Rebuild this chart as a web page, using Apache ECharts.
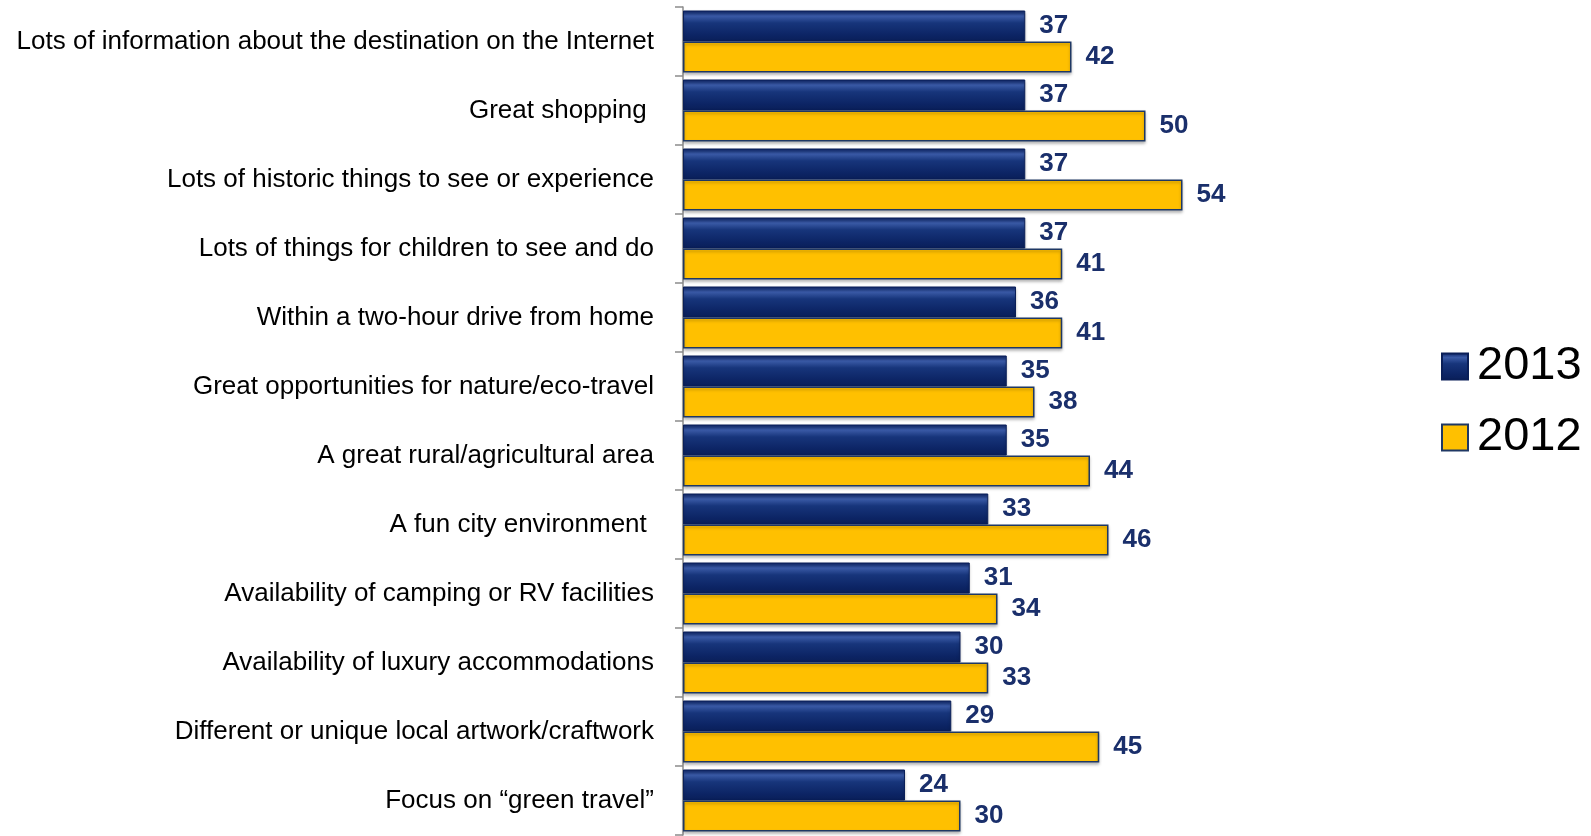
<!DOCTYPE html>
<html>
<head>
<meta charset="utf-8">
<script src="https://cdn.jsdelivr.net/npm/echarts@6/dist/echarts.min.js"></script>
<style>
  html, body { margin: 0; padding: 0; background: #fff; }
  #main { width: 1591px; height: 836px; }
</style>
</head>
<body>
<div id="main"></div>
<script>
var categories = [
  'Lots of information about the destination on the Internet',
  'Great shopping ',
  'Lots of historic things to see or experience',
  'Lots of things for children to see and do',
  'Within a two-hour drive from home',
  'Great opportunities for nature/eco-travel',
  'A great rural/agricultural area',
  'A fun city environment ',
  'Availability of camping or RV facilities',
  'Availability of luxury accommodations',
  'Different or unique local artwork/craftwork',
  'Focus on \u201cgreen travel\u201d'
]
var values2013 = [37, 37, 37, 37, 36, 35, 35, 33, 31, 30, 29, 24]
var values2012 = [42, 50, 54, 41, 41, 38, 44, 46, 34, 33, 45, 30]

var myChart = echarts.init(document.getElementById('main'))
var option

var navyGradient = new echarts.graphic.LinearGradient(0, 0, 0, 1, [
  { offset: 0, color: '#0b2263' },
  { offset: 0.18, color: '#3a5aa6' },
  { offset: 0.4, color: '#17357b' },
  { offset: 0.8, color: '#0c2464' },
  { offset: 1, color: '#0a1f58' }
])

var labelStyle = {
  show: true,
  position: 'right',
  distance: 14,
  color: '#1a2f6b',
  fontFamily: 'Liberation Sans, Arial, sans-serif',
  fontWeight: 'bold',
  fontSize: 26
}

option = {
  animation: false,
  backgroundColor: '#fff',
  grid: {
    left: 683,
    right: 353,
    top: 7,
    bottom: 1,
    containLabel: false,
    outerBoundsMode: 'none'
  },
  legend: {
    orient: 'vertical',
    left: 1436,
    top: 338,
    itemWidth: 26,
    itemHeight: 26,
    itemGap: 24,
    icon: 'rect',
    data: ['2013', '2012'],
    textStyle: {
      fontFamily: 'Liberation Sans, Arial, sans-serif',
      fontSize: 47,
      lineHeight: 44,
      color: '#000',
      padding: [0, 0, 0, 4]
    }
  },
  xAxis: {
    type: 'value',
    min: 0,
    max: 60,
    show: false,
    splitLine: { show: false }
  },
  yAxis: {
    type: 'category',
    inverse: true,
    data: categories,
    axisLine: {
      show: true,
      lineStyle: { color: '#8c8c8c', width: 1.5 }
    },
    axisTick: {
      show: true,
      length: 8,
      lineStyle: { color: '#8c8c8c', width: 1.5 }
    },
    axisLabel: {
      margin: 29,
      color: '#000',
      fontFamily: 'Liberation Sans, Arial, sans-serif',
      fontSize: 26
    }
  },
  series: [
    {
      name: '2013',
      type: 'bar',
      data: values2013,
      barWidth: 31,
      barGap: '0%',
      itemStyle: {
        color: navyGradient,
        borderColor: '#0a1f58',
        borderWidth: 1,
        shadowColor: 'rgba(0,0,0,0.25)',
        shadowBlur: 3,
        shadowOffsetY: 2
      },
      label: labelStyle
    },
    {
      name: '2012',
      type: 'bar',
      data: values2012,
      barWidth: 31,
      barGap: '0%',
      itemStyle: {
        color: '#ffc000',
        borderColor: '#1f3864',
        borderWidth: 1.5,
        shadowColor: 'rgba(0,0,0,0.25)',
        shadowBlur: 3,
        shadowOffsetY: 2
      },
      label: labelStyle
    }
  ]
}

option && myChart.setOption(option)
</script>
</body>
</html>
